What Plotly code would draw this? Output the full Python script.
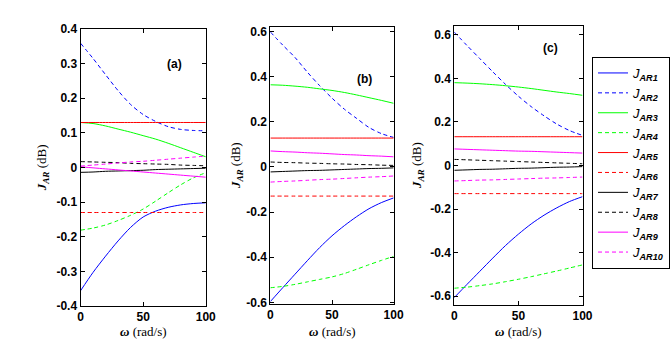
import plotly.graph_objects as go

omega = [0, 10, 20, 30, 40, 50, 60, 70, 80, 90, 100]

# Panel (a)
a_JAR1 = [-0.356, -0.303, -0.256, -0.212, -0.173, -0.143, -0.126, -0.115, -0.108, -0.104, -0.102]
a_JAR2 = [0.359, 0.315, 0.268, 0.222, 0.182, 0.153, 0.133, 0.118, 0.110, 0.107, 0.106]
a_JAR3 = [0.13, 0.127, 0.12, 0.111, 0.102, 0.092, 0.082, 0.07, 0.057, 0.044, 0.031]
a_JAR4 = [-0.181, -0.175, -0.166, -0.153, -0.138, -0.12, -0.097, -0.073, -0.05, -0.03, -0.015]
a_JAR5 = [0.13] * 11
a_JAR6 = [-0.13] * 11
a_JAR7 = [-0.014, -0.013, -0.011, -0.010, -0.009, -0.008, -0.006, -0.005, -0.004, -0.003, -0.002]
a_JAR8 = [0.017, 0.016, 0.015, 0.014, 0.012, 0.011, 0.010, 0.009, 0.007, 0.006, 0.005]
a_JAR9 = [0.002, -0.001, -0.004, -0.007, -0.010, -0.013, -0.016, -0.019, -0.022, -0.025, -0.028]
a_JAR10 = [0.004, 0.007, 0.010, 0.013, 0.016, 0.018, 0.021, 0.024, 0.027, 0.030, 0.033]

# Panel (b)
b_JAR1 = [-0.596, -0.535, -0.475, -0.415, -0.357, -0.305, -0.26, -0.22, -0.185, -0.158, -0.137]
b_JAR2 = [0.598, 0.54, 0.485, 0.42, 0.36, 0.305, 0.256, 0.215, 0.175, 0.148, 0.131]
b_JAR3 = [0.364, 0.362, 0.358, 0.353, 0.346, 0.339, 0.33, 0.319, 0.307, 0.295, 0.282]
b_JAR4 = [-0.535, -0.529, -0.52, -0.509, -0.498, -0.487, -0.472, -0.453, -0.433, -0.414, -0.396]
b_JAR5 = [0.128] * 11
b_JAR6 = [-0.129] * 11
b_JAR7 = [-0.022, -0.020, -0.018, -0.016, -0.015, -0.013, -0.011, -0.009, -0.007, -0.006, -0.004]
b_JAR8 = [0.022, 0.020, 0.019, 0.017, 0.016, 0.014, 0.013, 0.011, 0.010, 0.008, 0.007]
b_JAR9 = [0.071, 0.068, 0.066, 0.063, 0.061, 0.058, 0.055, 0.053, 0.050, 0.048, 0.045]
b_JAR10 = [-0.067, -0.064, -0.062, -0.059, -0.056, -0.054, -0.051, -0.048, -0.045, -0.043, -0.04]

# Panel (c)
c_JAR1 = [-0.606, -0.545, -0.485, -0.425, -0.367, -0.315, -0.268, -0.228, -0.194, -0.165, -0.143]
c_JAR2 = [0.612, 0.55, 0.49, 0.43, 0.372, 0.318, 0.27, 0.228, 0.19, 0.16, 0.138]
c_JAR3 = [0.38, 0.378, 0.375, 0.371, 0.366, 0.36, 0.353, 0.345, 0.337, 0.33, 0.322]
c_JAR4 = [-0.563, -0.558, -0.551, -0.543, -0.533, -0.522, -0.51, -0.497, -0.484, -0.47, -0.456]
c_JAR5 = [0.132] * 11
c_JAR6 = [-0.129] * 11
c_JAR7 = [-0.022, -0.020, -0.018, -0.017, -0.015, -0.013, -0.012, -0.010, -0.008, -0.007, -0.005]
c_JAR8 = [0.028, 0.026, 0.024, 0.022, 0.020, 0.018, 0.016, 0.014, 0.012, 0.010, 0.008]
c_JAR9 = [0.076, 0.074, 0.072, 0.070, 0.068, 0.066, 0.065, 0.063, 0.061, 0.059, 0.057]
c_JAR10 = [-0.071, -0.069, -0.067, -0.066, -0.064, -0.062, -0.060, -0.058, -0.057, -0.055, -0.053]

series_names = ["AR1", "AR2", "AR3", "AR4", "AR5", "AR6", "AR7", "AR8", "AR9", "AR10"]
series_colors = ["#0000ff", "#0000ff", "#00ff00", "#00ff00", "#ff0000", "#ff0000",
                 "#000000", "#000000", "#ff00ff", "#ff00ff"]
series_dash = ["solid", "4px,3px", "solid", "4px,3px", "solid", "4px,3px",
               "solid", "4px,3px", "solid", "4px,3px"]

panels = [
    [a_JAR1, a_JAR2, a_JAR3, a_JAR4, a_JAR5, a_JAR6, a_JAR7, a_JAR8, a_JAR9, a_JAR10],
    [b_JAR1, b_JAR2, b_JAR3, b_JAR4, b_JAR5, b_JAR6, b_JAR7, b_JAR8, b_JAR9, b_JAR10],
    [c_JAR1, c_JAR2, c_JAR3, c_JAR4, c_JAR5, c_JAR6, c_JAR7, c_JAR8, c_JAR9, c_JAR10],
]
panel_labels = ["(a)", "(b)", "(c)"]
label_pos = [(75, 0.30), (76, 0.39), (75, 0.54)]
y_ranges = [[-0.4, 0.4], [-0.607, 0.62], [-0.64, 0.64]]
y_ticks = [[-0.4, -0.3, -0.2, -0.1, 0, 0.1, 0.2, 0.3, 0.4],
           [-0.6, -0.4, -0.2, 0, 0.2, 0.4, 0.6],
           [-0.6, -0.4, -0.2, 0, 0.2, 0.4, 0.6]]
x_ticks = [0, 50, 100]

W, H = 670, 343
x_domains = [[81 / W, 207 / W], [272 / W, 396 / W], [457 / W, 586 / W]]
y_domains = [[1 - 306 / H, 1 - 29 / H], [1 - 304 / H, 1 - 27 / H], [1 - 305 / H, 1 - 26 / H]]
ytitle_x = [43, 238, 420]

fig = go.Figure()
tickfont = dict(family="Liberation Sans", size=12, color="black", weight="bold")
serif = "Liberation Serif"

for p in range(3):
    xa = "x" if p == 0 else f"x{p+1}"
    ya = "y" if p == 0 else f"y{p+1}"
    for i in range(10):
        fig.add_trace(go.Scatter(
            x=omega, y=panels[p][i], xaxis=xa, yaxis=ya, mode="lines",
            line=dict(color=series_colors[i], dash=series_dash[i], width=1,
                      shape="spline", smoothing=0.8),
            name=f"<i>J</i><sub><b><i>{series_names[i]}</i></b></sub>",
            showlegend=(p == 2), hoverinfo="skip",
        ))
    axkw = dict(showline=True, linecolor="black", linewidth=1, mirror="ticks",
                ticks="inside", ticklen=4, tickcolor="black", showgrid=False,
                zeroline=False, tickfont=tickfont, automargin=False)
    xkey = "xaxis" if p == 0 else f"xaxis{p+1}"
    ykey = "yaxis" if p == 0 else f"yaxis{p+1}"
    fig.update_layout(**{
        xkey: dict(domain=x_domains[p], range=[0, 100], tickvals=x_ticks,
                   anchor=ya, **axkw),
        ykey: dict(domain=y_domains[p], range=y_ranges[p], tickvals=y_ticks[p],
                   ticktext=[("0" if v == 0 else f"{v:g}") for v in y_ticks[p]],
                   anchor=xa, **axkw),
    })
    # x axis title
    fig.add_annotation(
        x=(x_domains[p][0] + x_domains[p][1]) / 2, y=1 - 331 / H,
        xref="paper", yref="paper", showarrow=False,
        xanchor="center", yanchor="middle",
        text="<b><i>ω</i></b> (rad/s)", font=dict(family=serif, size=13, color="black"),
    )
    # y axis title
    fig.add_annotation(
        x=ytitle_x[p] / W, y=(y_domains[p][0] + y_domains[p][1]) / 2,
        xref="paper", yref="paper", showarrow=False, textangle=-90,
        xanchor="center", yanchor="middle",
        text="<b><i>J</i></b><sub><b><i>AR</i></b></sub> (dB)",
        font=dict(family=serif, size=13, color="black"),
    )
    # panel label
    fig.add_annotation(
        x=label_pos[p][0], y=label_pos[p][1], xref=xa, yref=ya, showarrow=False,
        xanchor="center", yanchor="middle",
        text=f"<b>{panel_labels[p]}</b>",
        font=dict(family="Liberation Sans", size=12, color="black"),
    )

fig.update_layout(
    width=W, height=H, margin=dict(l=0, r=0, t=0, b=0),
    paper_bgcolor="white", plot_bgcolor="white",
    legend=dict(x=596 / W, y=1 - 57 / H, xanchor="left", yanchor="top",
                bordercolor="black", borderwidth=1, bgcolor="white",
                font=dict(family="Liberation Sans", size=13, color="black"),
                itemwidth=30, tracegroupgap=0),
)

fig.write_html("out.html")
